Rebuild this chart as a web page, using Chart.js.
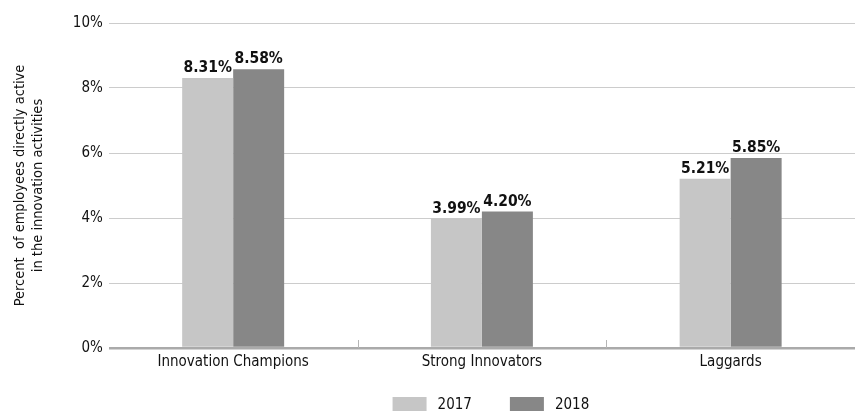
<!DOCTYPE html>
<html>
<head>
<meta charset="utf-8">
<script src="https://cdn.jsdelivr.net/npm/chart.js@4/dist/chart.umd.min.js"></script>
<style>
html,body{margin:0;padding:0;background:#fff;}
#wrap{width:855px;height:415px;position:relative;}
</style>
</head>
<body>
<div id="wrap"><canvas id="c" width="855" height="415"></canvas></div>
<script>
const categories = ["Innovation Champions", "Strong Innovators", "Laggards"];
const seriesNames = ["2017", "2018"];
const values2017 = [8.31, 3.99, 5.21];
const values2018 = [8.58, 4.20, 5.85];
const yTitle = ["Percent  of employees directly active", "in the innovation activities"];

const FONT = "'Liberation Sans Narrow', 'DejaVu Sans Condensed', 'Arial Narrow', sans-serif";

const valueLabels = {
  id: 'valueLabels',
  afterDatasetsDraw(chart) {
    const ctx = chart.ctx;
    ctx.save();
    ctx.font = "bold 15.5px " + FONT;
    ctx.fillStyle = "#111";
    ctx.textAlign = "center";
    ctx.textBaseline = "bottom";
    chart.data.datasets.forEach((ds, di) => {
      const meta = chart.getDatasetMeta(di);
      meta.data.forEach((bar, i) => {
        ctx.fillText(ds.data[i].toFixed(2) + "%", bar.x, bar.y - 2);
      });
    });
    ctx.restore();
  }
};

const catTicks = {
  id: 'catTicks',
  afterDatasetsDraw(chart) {
    const xs = chart.scales.x, ctx = chart.ctx;
    const bottom = chart.chartArea.bottom;
    const n = categories.length;
    const w = (xs.right - xs.left) / n;
    ctx.save();
    ctx.strokeStyle = "#b5b5b5";
    ctx.lineWidth = 1;
    for (let i = 1; i < n; i++) {
      const x = Math.round(xs.left + w * i) + 0.5;
      ctx.beginPath();
      ctx.moveTo(x, bottom - 8);
      ctx.lineTo(x, bottom);
      ctx.stroke();
    }
    ctx.restore();
  }
};

const customLegend = {
  id: 'customLegend',
  afterDraw(chart) {
    const ctx = chart.ctx;
    const ca = chart.chartArea;
    const boxW = 34, boxH = 14, gapText = 11, gapItem = 38;
    ctx.save();
    ctx.font = "15px " + FONT;
    ctx.textBaseline = "middle";
    ctx.textAlign = "left";
    const items = chart.data.datasets.map(ds => ({ label: ds.label, color: ds.backgroundColor, tw: ctx.measureText(ds.label).width }));
    let total = 0;
    items.forEach((it, i) => { total += boxW + gapText + it.tw + (i < items.length - 1 ? gapItem : 0); });
    let x = (ca.left + ca.right) / 2 + 9 - total / 2;
    const cy = 404;
    items.forEach(it => {
      ctx.fillStyle = it.color;
      ctx.fillRect(x, cy - boxH / 2, boxW, boxH);
      ctx.fillStyle = "#111";
      ctx.fillText(it.label, x + boxW + gapText, cy + 1);
      x += boxW + gapText + it.tw + gapItem;
    });
    ctx.restore();
  }
};

new Chart(document.getElementById('c'), {
  type: 'bar',
  data: {
    labels: categories,
    datasets: [
      { label: seriesNames[0], data: values2017, backgroundColor: "#c6c6c6" },
      { label: seriesNames[1], data: values2018, backgroundColor: "#878787" }
    ]
  },
  options: {
    responsive: false,
    animation: false,
    devicePixelRatio: 1,
    layout: { padding: { top: 23, right: 0, left: 12, bottom: 39 } },
    datasets: { bar: { barPercentage: 1, categoryPercentage: 0.41 } },
    scales: {
      x: {
        grid: { display: false, drawTicks: false },
        border: { display: false },
        ticks: { color: "#111", font: { family: FONT, size: 15 }, padding: 5 }
      },
      y: {
        min: 0, max: 10,
        ticks: { stepSize: 2, color: "#111", font: { family: FONT, size: 15 }, padding: 6,
          callback: v => v + "%" },
        grid: {
          color: ctx => ctx.tick && ctx.tick.value === 0 ? "#aaaaaa" : "#cccccc",
          lineWidth: ctx => ctx.tick && ctx.tick.value === 0 ? 2.5 : 1,
          drawTicks: false
        },
        border: { display: false },
        title: { display: true, text: yTitle, color: "#111", font: { family: FONT, size: 14.5, lineHeight: 1.2 }, padding: { top: 0, bottom: 20 } }
      }
    },
    plugins: {
      legend: { display: false },
      tooltip: { enabled: false }
    }
  },
  plugins: [valueLabels, catTicks, customLegend]
});
</script>
</body>
</html>
